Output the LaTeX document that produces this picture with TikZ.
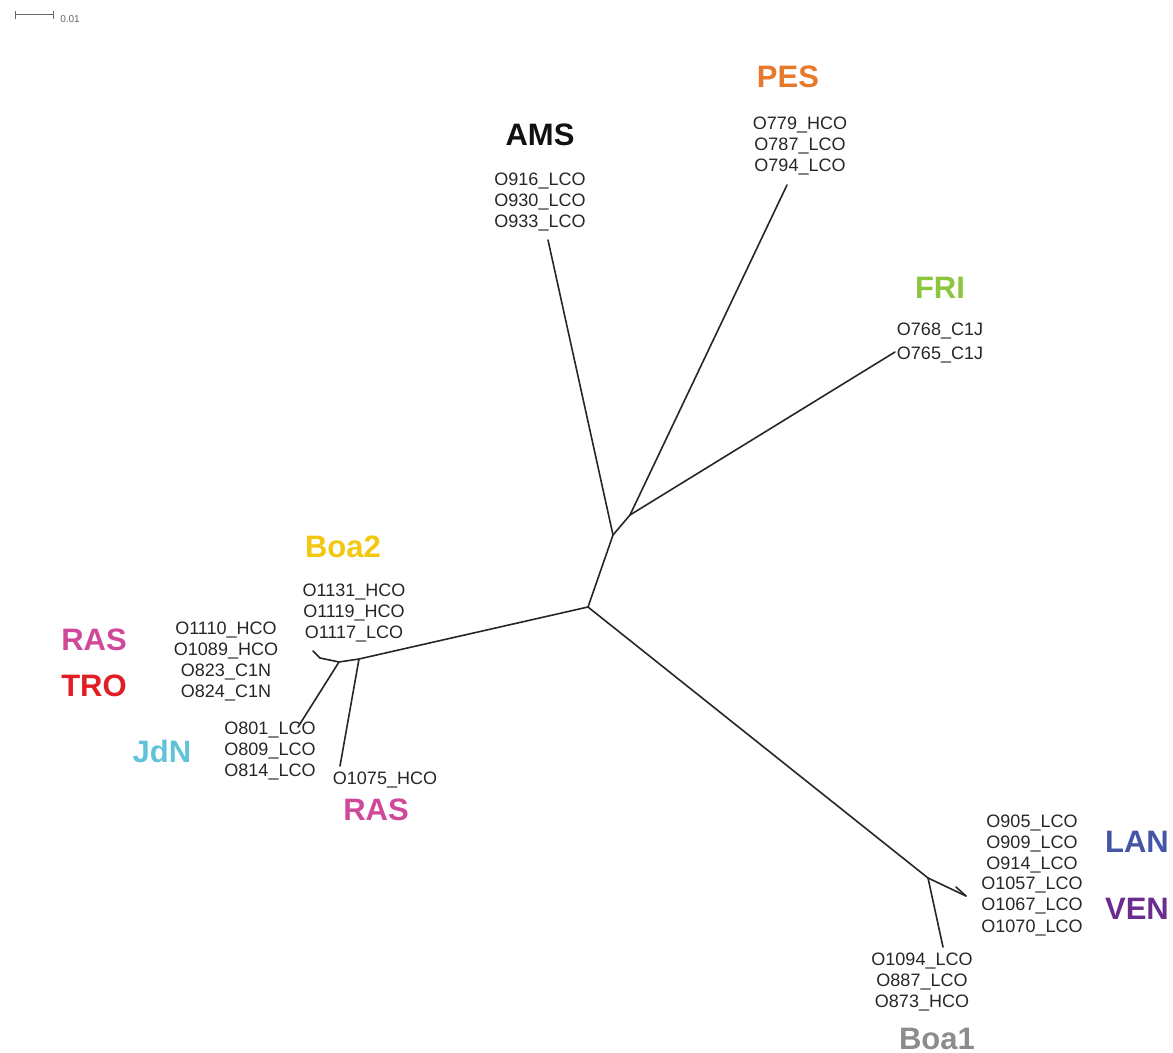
\documentclass[tikz,border=0pt]{standalone}
\usepackage{fontspec}
\setmainfont{Liberation Sans}
\usetikzlibrary{calc,positioning}
\definecolor{amscolor}{HTML}{111111}
\definecolor{pescolor}{HTML}{E8782A}
\definecolor{fricolor}{HTML}{8CC63F}
\definecolor{boatwocolor}{HTML}{F2C80F}
\definecolor{rascolor}{HTML}{D0489A}
\definecolor{trocolor}{HTML}{E01E24}
\definecolor{jdncolor}{HTML}{62C3D8}
\definecolor{lancolor}{HTML}{4455A8}
\definecolor{vencolor}{HTML}{6A2C8E}
\definecolor{boaonecolor}{HTML}{8C8C8C}
\tikzstyle{leaf}=[
  align=center,
  font={\fontsize{9}{10.5}\selectfont},
  inner sep=0pt,
  text=black!85,
]
\tikzstyle{group}=[
  font={\fontsize{15.5}{17}\selectfont\bfseries},
  inner sep=0pt,
]
\tikzstyle{branch}=[
  draw=black!85,
  line width=.8pt,
  line cap=round,
]
\tikzstyle{scalebar}=[
  draw=black!60,
  line width=.5pt,
]

\begin{document}
\begin{tikzpicture}[x=.5pt,y=-.5pt]
     \useasboundingbox (0,0) rectangle (1173,1053);
     %% scale bar
     \coordinate (sbl) at (15,15);
     \coordinate (sbr) at (53,15);
     \draw [scalebar] (sbl) -- (sbr);
     \draw [scalebar] ($(sbl)+(0,-4)$) -- ($(sbl)+(0,4)$);
     \draw [scalebar] ($(sbr)+(0,-4)$) -- ($(sbr)+(0,4)$);
     \node (sblabel) [inner sep=0pt, font={\fontsize{5}{5}\selectfont}, text=black!60] at (70,19) {0.01};
     %%
     %% internal nodes
     \coordinate (c1) at (588,607);
     \coordinate (c2) at (613,535);
     \coordinate (c3) at (630,515);
     \coordinate (l1) at (359,659);
     \coordinate (l2) at (339,662);
     \coordinate (r1) at (928,878);
     %%
     %% branch ends
     \coordinate (amsend) at (548,240);
     \coordinate (pesend) at (787,185);
     \coordinate (friend) at (895,352);
     \coordinate (rasend) at (320,658);
     \coordinate (rastip) at (313,651);
     \coordinate (jdnend) at (298,727);
     \coordinate (rastwoend) at (340,766);
     \coordinate (lvend) at (966,896);
     \coordinate (lvtip) at (956,887);
     \coordinate (boaoneend) at (943,947);
     %%
     \draw [branch] (c1) -- (c2) -- (amsend);
     \draw [branch] (c2) -- (c3) -- (pesend);
     \draw [branch] (c3) -- (friend);
     \draw [branch] (c1) -- (l1) -- (l2) -- (rasend);
     \draw [branch] (rastip) -- (rasend);
     \draw [branch] (l2) -- (jdnend);
     \draw [branch] (l1) -- (rastwoend);
     \draw [branch] (c1) -- (r1) -- (lvend);
     \draw [branch] (lvtip) -- (lvend);
     \draw [branch] (r1) -- (boaoneend);
     %%
     %% leaf labels
     \node (amsleaves) [leaf] at (540,202) {O916\_LCO\\O930\_LCO\\O933\_LCO};
     \node (pesleaves) [leaf] at (800,146) {O779\_HCO\\O787\_LCO\\O794\_LCO};
     \node (frileaves) [leaf] at (940,343) {O768\_C1J\\[1.5pt]O765\_C1J};
     \node (boatwoleaves) [leaf] at (354,613) {O1131\_HCO\\O1119\_HCO\\O1117\_LCO};
     \node (rastroleaves) [leaf] at (226,662) {O1110\_HCO\\O1089\_HCO\\O823\_C1N\\O824\_C1N};
     \node (jdnleaves) [leaf] at (270,751) {O801\_LCO\\O809\_LCO\\O814\_LCO};
     \node (rastwoleaves) [leaf] at (385,780) {O1075\_HCO};
     \node (lanvenleaves) [leaf] at (1032,875) {O905\_LCO\\O909\_LCO\\O914\_LCO\\O1057\_LCO\\O1067\_LCO\\O1070\_LCO};
     \node (boaoneleaves) [leaf] at (922,982) {O1094\_LCO\\O887\_LCO\\O873\_HCO};
     %%
     %% group labels
     \node (ams) [group, text=amscolor] at (540,135) {AMS};
     \node (pes) [group, text=pescolor] at (788,77) {PES};
     \node (fri) [group, text=fricolor] at (940,288) {FRI};
     \node (boatwo) [group, text=boatwocolor] at (343,547) {Boa2};
     \node (ras) [group, text=rascolor] at (94,640) {RAS};
     \node (tro) [group, text=trocolor] at (94,686) {TRO};
     \node (jdn) [group, text=jdncolor] at (162,751) {JdN};
     \node (rastwo) [group, text=rascolor] at (376,810) {RAS};
     \node (lan) [group, text=lancolor] at (1137,842) {LAN};
     \node (ven) [group, text=vencolor] at (1137,909) {VEN};
     \node (boaone) [group, text=boaonecolor] at (937,1039) {Boa1};
   \end{tikzpicture}
\end{document}
